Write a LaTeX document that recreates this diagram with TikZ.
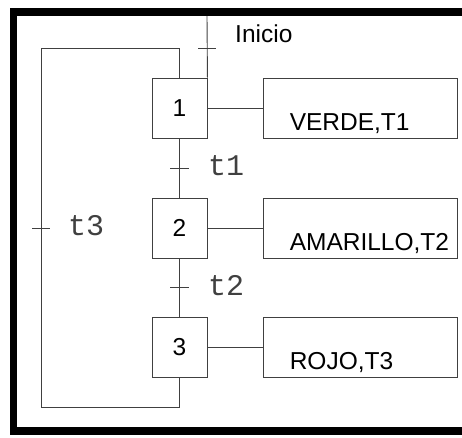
\documentclass[tikz,border=0pt]{standalone}
\usepackage{fontspec}
\setmainfont{Liberation Sans}
\newfontfamily\monofam{Liberation Mono}
\usetikzlibrary{positioning}
\definecolor{ink}{HTML}{404040}

\begin{document}
\begin{tikzpicture}[
  x=1pt,y=-1pt,
  font=\fontsize{24.5}{28}\selectfont,
  link/.style={draw=ink,line width=.9pt},
  etapa/.style={draw=ink,line width=.9pt,minimum width=55pt,minimum height=60pt,inner sep=0pt},
  accion/.style={draw=ink,line width=.9pt,minimum width=194pt,minimum height=60pt,inner sep=0pt},
  rotulo/.style={anchor=base west,inner sep=0pt},
  trans/.style={anchor=base west,inner sep=0pt,font=\monofam\fontsize{30}{32}\selectfont,text=ink}
]
\useasboundingbox (0,0) rectangle (462,437);
% marco
\draw[black,line width=7.5pt,line join=miter] (462,12) -- (13.5,12) -- (13.5,431) -- (462,431);

% etapas
\node[etapa] (e1) at (179.5,108) {1};
\node[etapa] (e2) at (179.5,228) {2};
\node[etapa] (e3) at (179.5,347.5) {3};

% acciones
\node[accion] (a1) at (360,108) {};
\node[accion] (a2) at (360,228) {};
\node[accion] (a3) at (360,347.5) {};
\node[rotulo] at ([shift={(27,-8)}]a1.south west) {VERDE,T1};
\node[rotulo] at ([shift={(27,-8)}]a2.south west) {AMARILLO,T2};
\node[rotulo] at ([shift={(27,-8)}]a3.south west) {ROJO,T3};

\draw[link] (e1.east) -- (a1.west);
\draw[link] (e2.east) -- (a2.west);
\draw[link] (e3.east) -- (a3.west);

% inicio
\coordinate (ini) at (207,16);
\draw[link] (ini) -- (e1.north east);
\draw[link] (198,48) -- (216,48);
\node[rotulo] at (235,42) {Inicio};

% transiciones
\draw[link] (e1.south) -- (e2.north);
\draw[link] (e2.south) -- (e3.north);
\draw[link] (170,168) -- (189,168);
\draw[link] (170,287) -- (189,287);
\node[trans] at (208,175) {t1};
\node[trans] at (208,295) {t2};

% retorno
\coordinate (rabajo) at (41,407);
\coordinate (rarriba) at (41,48);
\draw[link] (e3.south) |- (rabajo) -- (rarriba) -| (e1.north);
\draw[link] (32,228) -- (50,228);
\node[trans] at (68,235) {t3};
\end{tikzpicture}
\end{document}
